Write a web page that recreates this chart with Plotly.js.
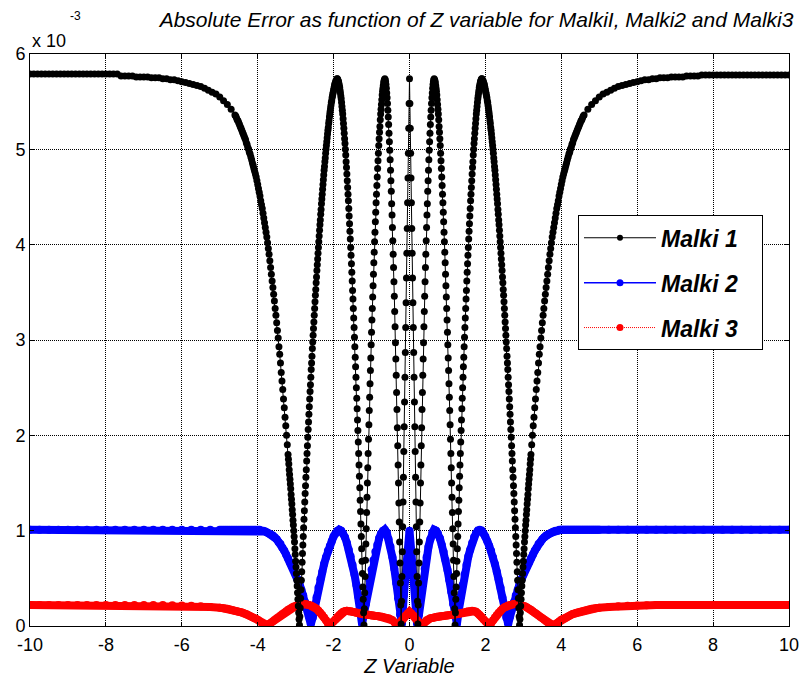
<!DOCTYPE html>
<html>
<head>
<meta charset="utf-8">
<script src="https://cdn.plot.ly/plotly-3.0.1.min.js"></script>
<style>html,body{margin:0;padding:0;background:#fff}</style>
</head>
<body>
<div id="chart" style="width:799px;height:681px"></div>
<script>
// Regular sampling grid of the Z variable (start, stop, step)
function grid(start, stop, step) {
  const n = Math.round((stop - start) / step);
  const out = [];
  for (let i = 0; i <= n; i++) out.push(+(start + i * step).toFixed(2));
  return out;
}

// Z grids used by Malki 1 (dense where the curve is steep)
const zTailLeft1 = grid(-10, -4.7, 0.1);
const zMidLeft1 = grid(-4.6, -3.22, 0.02);
const zFine1 = grid(-3.2, 3.2, 0.01);
const zMidRight1 = grid(3.22, 4.6, 0.02);
const zTailRight1 = grid(4.7, 10, 0.1);

// Z grids used by Malki 2 and Malki 3
const zTailLeft23 = grid(-10, -5.25, 0.25);
const zCore23 = grid(-5, 5, 0.05);
const zTailRight23 = grid(5.25, 10, 0.25);

// Absolute error of Malki 1 (units of 1e-3)
const malki1TailLeft = [
  5.79,5.79,5.79,5.79,5.79,5.79,5.79,5.79,5.79,5.79,
  5.79,5.79,5.79,5.79,5.79,5.79,5.79,5.79,5.79,5.79,
  5.79,5.79,5.79,5.79,
  5.77,5.77,5.77,5.77,5.76,5.76,5.76,5.76,5.75,5.75,
  5.75,5.74,5.74,5.73,5.73,5.72,5.71,5.70,5.69,5.68,
  5.67,5.66,5.64,5.62,5.60,5.58,5.55,5.51,5.47,5.42
];
const malki1MidLeft = [
  5.36,5.35,5.33,5.31,5.30,5.28,5.26,5.24,5.22,5.20,
  5.18,5.16,5.14,5.12,5.10,5.07,5.05,5.02,5.00,4.97,
  4.95,4.92,4.89,4.86,4.83,4.80,4.77,4.74,4.71,4.67,
  4.63,4.59,4.55,4.51,4.46,4.42,4.38,4.33,4.28,4.23,
  4.18,4.13,4.08,4.02,3.96,3.90,3.83,3.76,3.69,3.62,
  3.55,3.48,3.41,3.33,3.26,3.18,3.10,3.02,2.93,2.85,
  2.76,2.66,2.57,2.48,2.38,2.29,2.19,2.10,2.00,1.90
];
const malki1Fine = [
  1.80,
  1.75,1.70,1.64,1.59,1.54,1.49,1.44,1.38,1.33,1.28,
  1.22,1.17,1.11,1.06,1.00,0.94,0.88,0.81,0.75,0.68,
  0.62,0.55,0.48,0.42,0.35,0.28,0.21,0.14,0.07,0.01,
  0.10,0.19,0.29,0.38,0.48,0.57,0.67,0.76,0.85,0.94,
  1.03,1.12,1.21,1.30,1.39,1.47,1.56,1.64,1.73,1.81,
  1.89,1.98,2.06,2.14,2.22,2.30,2.38,2.46,2.53,2.61,
  2.69,2.76,2.83,2.91,2.98,3.05,3.12,3.19,3.26,3.33,
  3.40,3.47,3.53,3.60,3.66,3.73,3.79,3.85,3.91,3.97,
  4.03,4.09,4.15,4.21,4.26,4.32,4.37,4.43,4.48,4.53,
  4.58,4.63,4.68,4.73,4.78,4.82,4.87,4.91,4.96,5.00,
  5.04,5.08,5.12,5.16,5.20,5.23,5.27,5.30,5.34,5.37,
  5.40,5.43,5.46,5.49,5.51,5.54,5.56,5.58,5.60,5.62,
  5.64,5.66,5.68,5.69,5.70,5.72,5.72,5.73,5.74,5.74,
  5.73,5.72,5.71,5.69,5.67,5.65,5.62,5.59,5.56,5.53,
  5.49,5.45,5.41,5.37,5.32,5.27,5.22,5.17,5.11,5.06,
  5.00,4.94,4.87,4.81,4.74,4.67,4.60,4.53,4.46,4.38,
  4.30,4.22,4.14,4.06,3.97,3.89,3.80,3.71,3.62,3.52,
  3.43,3.33,3.23,3.13,3.03,2.93,2.82,2.72,2.61,2.50,
  2.39,2.28,2.16,2.05,1.93,1.81,1.69,1.57,1.45,1.32,
  1.20,1.07,0.94,0.81,0.68,0.55,0.41,0.28,0.14,0.01,
  0.18,0.35,0.52,0.69,0.86,1.02,1.19,1.35,1.50,1.66,
  1.81,1.96,2.11,2.26,2.40,2.54,2.68,2.81,2.95,3.08,
  3.21,3.33,3.45,3.57,3.69,3.81,3.92,4.03,4.13,4.24,
  4.34,4.44,4.53,4.62,4.71,4.80,4.88,4.96,5.04,5.11,
  5.18,5.24,5.31,5.37,5.42,5.47,5.52,5.57,5.61,5.64,
  5.67,5.70,5.72,5.73,5.74,5.73,5.71,5.68,5.64,5.59,
  5.54,5.48,5.41,5.34,5.26,5.17,5.08,4.99,4.89,4.78,
  4.67,4.56,4.43,4.31,4.18,4.04,3.90,3.76,3.61,3.46,
  3.30,3.14,2.97,2.80,2.63,2.45,2.27,2.08,1.89,1.69,
  1.50,1.29,1.09,0.88,0.66,0.45,0.22,0.02,0.26,0.52,
  0.78,1.04,1.30,1.56,1.83,2.09,2.35,2.61,2.87,3.13,
  3.39,3.65,3.91,4.17,4.44,4.70,4.96,5.22,5.48,
  5.74,5.48,5.22,4.96,4.70,4.44,4.17,3.91,3.65,3.39,
  3.13,2.87,2.61,2.35,2.09,1.83,1.56,1.30,1.04,0.78,
  0.52,0.26,0.02,0.22,0.45,0.66,0.88,1.09,1.29,1.50,
  1.69,1.89,2.08,2.27,2.45,2.63,2.80,2.97,3.14,3.30,
  3.46,3.61,3.76,3.90,4.04,4.18,4.31,4.43,4.56,4.67,
  4.78,4.89,4.99,5.08,5.17,5.26,5.34,5.41,5.48,5.54,
  5.59,5.64,5.68,5.71,5.73,5.74,5.73,5.72,5.70,5.67,
  5.64,5.61,5.57,5.52,5.47,5.42,5.37,5.31,5.24,5.18,
  5.11,5.04,4.96,4.88,4.80,4.71,4.62,4.53,4.44,4.34,
  4.24,4.13,4.03,3.92,3.81,3.69,3.57,3.45,3.33,3.21,
  3.08,2.95,2.81,2.68,2.54,2.40,2.26,2.11,1.96,1.81,
  1.66,1.50,1.35,1.19,1.02,0.86,0.69,0.52,0.35,0.18,
  0.01,0.14,0.28,0.41,0.55,0.68,0.81,0.94,1.07,1.20,
  1.32,1.45,1.57,1.69,1.81,1.93,2.05,2.16,2.28,2.39,
  2.50,2.61,2.72,2.82,2.93,3.03,3.13,3.23,3.33,3.43,
  3.52,3.62,3.71,3.80,3.89,3.97,4.06,4.14,4.22,4.30,
  4.38,4.46,4.53,4.60,4.67,4.74,4.81,4.87,4.94,5.00,
  5.06,5.11,5.17,5.22,5.27,5.32,5.37,5.41,5.45,5.49,
  5.53,5.56,5.59,5.62,5.65,5.67,5.69,5.71,5.72,5.73,
  5.74,5.74,5.73,5.72,5.72,5.70,5.69,5.68,5.66,5.64,
  5.62,5.60,5.58,5.56,5.54,5.51,5.49,5.46,5.43,5.40,
  5.37,5.34,5.30,5.27,5.23,5.20,5.16,5.12,5.08,5.04,
  5.00,4.96,4.91,4.87,4.82,4.78,4.73,4.68,4.63,4.58,
  4.53,4.48,4.43,4.37,4.32,4.26,4.21,4.15,4.09,4.03,
  3.97,3.91,3.85,3.79,3.73,3.66,3.60,3.53,3.47,3.40,
  3.33,3.26,3.19,3.12,3.05,2.98,2.91,2.83,2.76,2.69,
  2.61,2.53,2.46,2.38,2.30,2.22,2.14,2.06,1.98,1.89,
  1.81,1.73,1.64,1.56,1.47,1.39,1.30,1.21,1.12,1.03,
  0.94,0.85,0.76,0.67,0.57,0.48,0.38,0.29,0.19,0.10,
  0.01,0.07,0.14,0.21,0.28,0.35,0.42,0.48,0.55,0.62,
  0.68,0.75,0.81,0.88,0.94,1.00,1.06,1.11,1.17,1.22,
  1.28,1.33,1.38,1.44,1.49,1.54,1.59,1.64,1.70,1.75,
  1.80
];
const malki1MidRight = [
  1.90,2.00,2.10,2.19,2.29,2.38,2.48,2.57,2.66,2.76,
  2.85,2.93,3.02,3.10,3.18,3.26,3.33,3.41,3.48,3.55,
  3.62,3.69,3.76,3.83,3.90,3.96,4.02,4.08,4.13,4.18,
  4.23,4.28,4.33,4.38,4.42,4.46,4.51,4.55,4.59,4.63,
  4.67,4.71,4.74,4.77,4.80,4.83,4.86,4.89,4.92,4.95,
  4.97,5.00,5.02,5.05,5.07,5.10,5.12,5.14,5.16,5.18,
  5.20,5.22,5.24,5.26,5.28,5.30,5.31,5.33,5.35,5.36
];
const malki1TailRight = [
  5.42,5.47,5.51,5.55,5.58,5.60,5.62,5.64,5.66,5.67,
  5.68,5.69,5.70,5.71,5.72,5.73,5.73,5.74,5.74,5.75,
  5.75,5.75,5.76,5.76,5.76,5.76,5.77,5.77,5.77,5.77,
  5.78,5.78,5.78,5.78,5.78,5.78,5.78,5.78,5.78,5.78,
  5.78,5.78,5.78,5.78,5.78,5.78,5.78,5.78,5.78,5.78,
  5.78,5.78,5.78,5.78
];

// Absolute error of Malki 2 (units of 1e-3)
const malki2TailLeft = [
  1.01,1.01,1.01,1.01,1.01,1.01,1.01,1.01,1.01,1.01,
  1.01,1.01,1.01,1.01,1.01,1.01,1.01,1.01,1.01,1.01
];
const malki2Core = [
  1.01,
  1.01,1.01,1.01,1.01,1.01,1.01,1.01,1.01,1.01,1.01,
  1.01,1.01,1.01,1.01,1.01,1.01,1.01,1.01,1.01,1.01,
  1.01,1.00,1.00,0.99,0.98,0.97,0.96,0.95,0.93,0.91,
  0.88,0.86,0.82,0.79,0.75,0.71,0.67,0.63,0.59,0.54,
  0.49,0.44,0.38,0.32,0.25,0.18,0.10,0.02,0.09,0.20,
  0.30,0.40,0.49,0.57,0.65,0.72,0.79,0.84,0.89,0.94,
  0.97,1.00,1.01,1.00,0.97,0.93,0.87,0.80,0.73,0.64,
  0.54,0.43,0.31,0.17,0.02,0.13,0.23,0.36,0.48,0.59,
  0.69,0.78,0.85,0.92,0.97,1.00,1.01,0.98,0.91,0.83,
  0.72,0.60,0.45,0.29,0.12,0.02,0.32,0.55,0.77,
  1.00,0.77,0.55,0.32,0.02,0.12,0.29,0.45,0.60,0.72,
  0.83,0.91,0.98,1.01,1.00,0.97,0.92,0.85,0.78,0.69,
  0.59,0.48,0.36,0.23,0.13,0.02,0.17,0.31,0.43,0.54,
  0.64,0.73,0.80,0.87,0.93,0.97,1.00,1.01,1.00,0.97,
  0.94,0.89,0.84,0.79,0.72,0.65,0.57,0.49,0.40,0.30,
  0.20,0.09,0.02,0.10,0.18,0.25,0.32,0.38,0.44,0.49,
  0.54,0.59,0.63,0.67,0.71,0.75,0.79,0.82,0.86,0.88,
  0.91,0.93,0.95,0.96,0.97,0.98,0.99,1.00,1.00,1.01,
  1.01,1.01,1.01,1.01,1.01,1.01,1.01,1.01,1.01,1.01,
  1.01,1.01,1.01,1.01,1.01,1.01,1.01,1.01,1.01,1.01,
  1.01
];
const malki2TailRight = [
  1.01,1.01,1.01,1.01,1.01,1.01,1.01,1.01,1.01,1.01,
  1.01,1.01,1.01,1.01,1.01,1.01,1.01,1.01,1.01,1.01
];

// Absolute error of Malki 3 (units of 1e-3)
const malki3TailLeft = [
  0.22,0.22,0.22,0.22,0.22,0.22,0.22,0.22,0.22,0.22,
  0.22,0.22,0.22,0.22,0.22,0.218,0.216,0.212,0.207,0.20
];
const malki3Core = [
  0.192,
  0.189,0.186,0.183,0.18,0.175,0.17,0.165,0.16,0.155,0.15,
  0.145,0.14,0.13,0.125,0.115,0.105,0.095,0.085,0.075,0.065,
  0.05,0.035,0.02,0.005,0.01,0.02,0.035,0.05,0.065,0.08,
  0.095,0.11,0.125,0.14,0.155,0.17,0.18,0.195,0.205,0.21,
  0.22,0.225,0.23,0.23,0.23,0.225,0.22,0.215,0.205,0.195,
  0.18,0.16,0.14,0.115,0.09,0.06,0.03,0.01,0.03,0.05,
  0.07,0.095,0.115,0.135,0.15,0.155,0.16,0.155,0.155,0.15,
  0.145,0.14,0.135,0.13,0.125,0.12,0.12,0.115,0.115,0.11,
  0.11,0.105,0.105,0.10,0.10,0.095,0.09,0.085,0.08,0.07,
  0.06,0.04,0.02,0.01,0.035,0.06,0.085,0.11,0.13,
  0.15,0.13,0.11,0.085,0.06,0.035,0.01,0.02,0.04,0.06,
  0.07,0.08,0.085,0.09,0.095,0.10,0.10,0.105,0.105,0.11,
  0.11,0.115,0.115,0.12,0.12,0.125,0.13,0.135,0.14,0.145,
  0.15,0.155,0.155,0.16,0.155,0.15,0.135,0.115,0.095,0.07,
  0.05,0.03,0.01,0.03,0.06,0.09,0.115,0.14,0.16,0.18,
  0.195,0.205,0.215,0.22,0.225,0.23,0.23,0.23,0.225,0.22,
  0.21,0.205,0.195,0.18,0.17,0.155,0.14,0.125,0.11,0.095,
  0.08,0.065,0.05,0.035,0.02,0.01,0.005,0.02,0.035,0.05,
  0.065,0.075,0.085,0.095,0.105,0.115,0.125,0.13,0.14,0.145,
  0.15,0.155,0.16,0.165,0.17,0.175,0.18,0.183,0.186,0.189,
  0.192
];
const malki3TailRight = [
  0.20,0.207,0.212,0.216,0.218,0.22,0.22,0.22,0.22,0.22,
  0.22,0.22,0.22,0.22,0.22,0.22,0.22,0.22,0.22,0.22
];

// Axis ticks
const xTickVals = [-10, -8, -6, -4, -2, 0, 2, 4, 6, 8, 10];
const xTickText = ['-10', '-8', '-6', '-4', '-2', '0', '2', '4', '6', '8', '10'];
const yTickVals = [0, 1, 2, 3, 4, 5, 6];
const yTickText = ['0', '1', '2', '3', '4', '5', '6'];

const seriesNames = ['Malki 1', 'Malki 2', 'Malki 3'];
const BLACK = '#000000', BLUE = '#0000ff', RED = '#ff0000';
const PAD = '\u00a0\u00a0\u00a0';  // keeps the legend box wide

const z1 = [].concat(zTailLeft1, zMidLeft1, zFine1, zMidRight1, zTailRight1);
const y1 = [].concat(malki1TailLeft, malki1MidLeft, malki1Fine, malki1MidRight, malki1TailRight);
const z23 = [].concat(zTailLeft23, zCore23, zTailRight23);
const y2 = [].concat(malki2TailLeft, malki2Core, malki2TailRight);
const y3 = [].concat(malki3TailLeft, malki3Core, malki3TailRight);

const traces = [
  // curves (thick bands for Malki 2 and 3, dotted chain for Malki 1)
  {x: z23, y: y2, mode: 'lines+markers', showlegend: false, hoverinfo: 'skip',
   line: {color: BLUE, width: 8}, marker: {color: BLUE, size: 8}},
  {x: z23, y: y3, mode: 'lines+markers', showlegend: false, hoverinfo: 'skip',
   line: {color: RED, width: 8}, marker: {color: RED, size: 8}},
  {x: z1, y: y1, mode: 'lines+markers', showlegend: false, hoverinfo: 'skip',
   line: {color: BLACK, width: 1}, marker: {color: BLACK, size: 7}},
  // legend entries
  {x: [null], y: [null], name: seriesNames[0] + PAD, legendgroup: 'g1', mode: 'lines+markers',
   line: {color: BLACK, width: 1}, marker: {color: BLACK, size: 6}},
  {x: [null], y: [null], name: seriesNames[1] + PAD, legendgroup: 'g2', mode: 'lines+markers',
   line: {color: BLUE, width: 1.5}, marker: {color: BLUE, size: 7}},
  {x: [null], y: [null], name: seriesNames[2] + PAD, legendgroup: 'g3', mode: 'lines+markers',
   line: {color: RED, width: 1, dash: '1px,1px'}, marker: {color: RED, size: 7}}
];

const axisCommon = {
  showgrid: true, gridcolor: BLACK, griddash: '1px,1px', gridwidth: 1,
  zeroline: false, showline: true, mirror: 'ticks', linecolor: BLACK, linewidth: 1,
  ticks: 'inside', ticklen: 4, tickcolor: BLACK,
  tickfont: {family: 'Liberation Sans, Arial, sans-serif', size: 18, color: BLACK},
  ticklabeloverflow: 'allow',
  fixedrange: true
};

const layout = {
  width: 799, height: 681,
  margin: {l: 30, r: 10, t: 54, b: 55, pad: 0},
  paper_bgcolor: '#ffffff', plot_bgcolor: '#ffffff',
  font: {family: 'Liberation Sans, Arial, sans-serif', size: 18, color: BLACK},
  title: {
    text: 'Absolute Error as function of Z variable for MalkiI, Malki2 and Malki3',
    font: {family: 'Liberation Sans, Arial, sans-serif', size: 21, style: 'italic', color: BLACK},
    xref: 'container', x: 0.993, xanchor: 'right',
    yref: 'container', y: 0.971, yanchor: 'middle'
  },
  xaxis: Object.assign({}, axisCommon, {
    range: [-10, 10], tickmode: 'array', tickvals: xTickVals, ticktext: xTickText,
    ticklabelstandoff: 2,
    title: {text: 'Z Variable', standoff: 5,
            font: {family: 'Liberation Sans, Arial, sans-serif', size: 20, style: 'italic', color: BLACK}}
  }),
  yaxis: Object.assign({}, axisCommon, {
    range: [0, 6], tickmode: 'array', tickvals: yTickVals, ticktext: yTickText
  }),
  legend: {
    x: 0.722, y: 0.718, xanchor: 'left', yanchor: 'top',
    bgcolor: '#ffffff', bordercolor: BLACK, borderwidth: 1,
    itemwidth: 72, tracegroupgap: 12,
    font: {family: 'Liberation Sans, Arial, sans-serif',
           size: 23, weight: 'bold', style: 'italic', color: BLACK}
  },
  annotations: [
    {text: 'x 10', xref: 'paper', yref: 'paper', x: 0, y: 1.022, xanchor: 'left', yanchor: 'middle',
     showarrow: false, font: {size: 18, color: BLACK}},
    {text: '-3', xref: 'paper', yref: 'paper', x: 0.05, y: 1.067, xanchor: 'left', yanchor: 'middle',
     showarrow: false, font: {size: 12, color: BLACK}}
  ],
  hovermode: false
};

Plotly.newPlot('chart', traces, layout, {displayModeBar: false, staticPlot: true});
</script>
</body>
</html>
